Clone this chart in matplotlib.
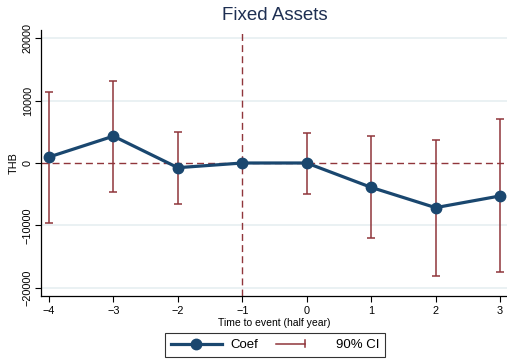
import numpy as np
import matplotlib
matplotlib.use("Agg")
from matplotlib import pyplot as plt
from matplotlib.lines import Line2D
from matplotlib.legend_handler import HandlerBase

plt.rcParams["font.family"] = ["Liberation Sans", "DejaVu Sans"]

# event time (half year) and estimates
periods = [-4, -3, -2, -1, 0, 1, 2, 3]
coef = [960, 4300, -750, 0, 0, -3900, -7150, -5280]
ci_low = [-9550, -4600, -6500, 0, -4950, -12050, -18080, -17490]
ci_high = [11350, 13070, 4960, 0, 4850, 4320, 3730, 6990]

navy = "#1a476f"
cranberry = "#90353b"


class CIHandler(HandlerBase):
    # horizontal line with a cap on the right end (stata-like rcap legend key)
    def create_artists(self, legend, orig_handle, xdescent, ydescent,
                       width, height, fontsize, trans):
        y = height / 2 - ydescent
        x0 = -xdescent
        x1 = x0 + 0.56 * width
        line = Line2D([x0, x1], [y, y], color=cranberry, lw=1.1, transform=trans)
        cap = Line2D([x1, x1], [y - 2.2, y + 2.2], color=cranberry, lw=1.1,
                     transform=trans)
        return [line, cap]


fig = plt.figure(figsize=(5.07, 3.62), dpi=100)
ax = fig.add_axes([41 / 507, 1 - 296 / 362, 466 / 507, 266 / 362])

x = np.array(periods)
y = np.array(coef)
lo = np.array(ci_low)
hi = np.array(ci_high)
mask = hi > lo

# reference lines
ax.axhline(0, color=cranberry, lw=1.0, ls=(0, (5, 3)), zorder=1)
ax.axvline(-1, color=cranberry, lw=1.0, ls=(0, (5, 3)), zorder=1)

ax.errorbar(x[mask], y[mask], yerr=[y[mask] - lo[mask], hi[mask] - y[mask]],
            fmt="none", ecolor=cranberry, elinewidth=1.1, capsize=2.8,
            capthick=1.1, zorder=2)
ln, = ax.plot(x, y, color=navy, lw=2.3, marker="o", ms=7.5, zorder=3)

ax.set_xlim(-4.124, 3.109)
ax.set_ylim(-21300, 21300)
ax.set_xticks(periods)
ax.set_xticklabels([str(p).replace("-", "\u2212") for p in periods])
ax.set_yticks([-20000, -10000, 0, 10000, 20000])
ax.set_yticklabels(["\u221220000", "\u221210000", "0", "10000", "20000"],
                   rotation=90, va="center")
for t in [-20000, -10000, 10000, 20000]:
    ax.axhline(t, color="#e6eff1", lw=1.2, zorder=0)

ax.tick_params(axis="both", labelsize=7.8, length=4, width=0.8, colors="black")
ax.tick_params(axis="y", pad=2)
for s in ["top", "right"]:
    ax.spines[s].set_visible(False)
for s in ["left", "bottom"]:
    ax.spines[s].set_linewidth(0.9)

ax.set_ylabel("THB", fontsize=7.8, labelpad=3)
ax.set_xlabel("Time to event (half year)", fontsize=7.5, labelpad=1)
fig.text(275 / 507, 1 - 16 / 362, "Fixed Assets", ha="center", va="center",
         fontsize=13.5, color="#1e2f52")

ci_key = object()
leg = fig.legend([ln, ci_key], ["Coef", "90% CI"], loc="center",
                 bbox_to_anchor=(275 / 507, 1 - 345 / 362), ncol=2,
                 fontsize=9.5, frameon=True, fancybox=False, edgecolor="black",
                 handlelength=3.9, handletextpad=0.6, columnspacing=1.4,
                 borderpad=0.45, handler_map={ci_key: CIHandler()})
leg.get_frame().set_linewidth(0.8)

fig.savefig("out.png", dpi=100)
